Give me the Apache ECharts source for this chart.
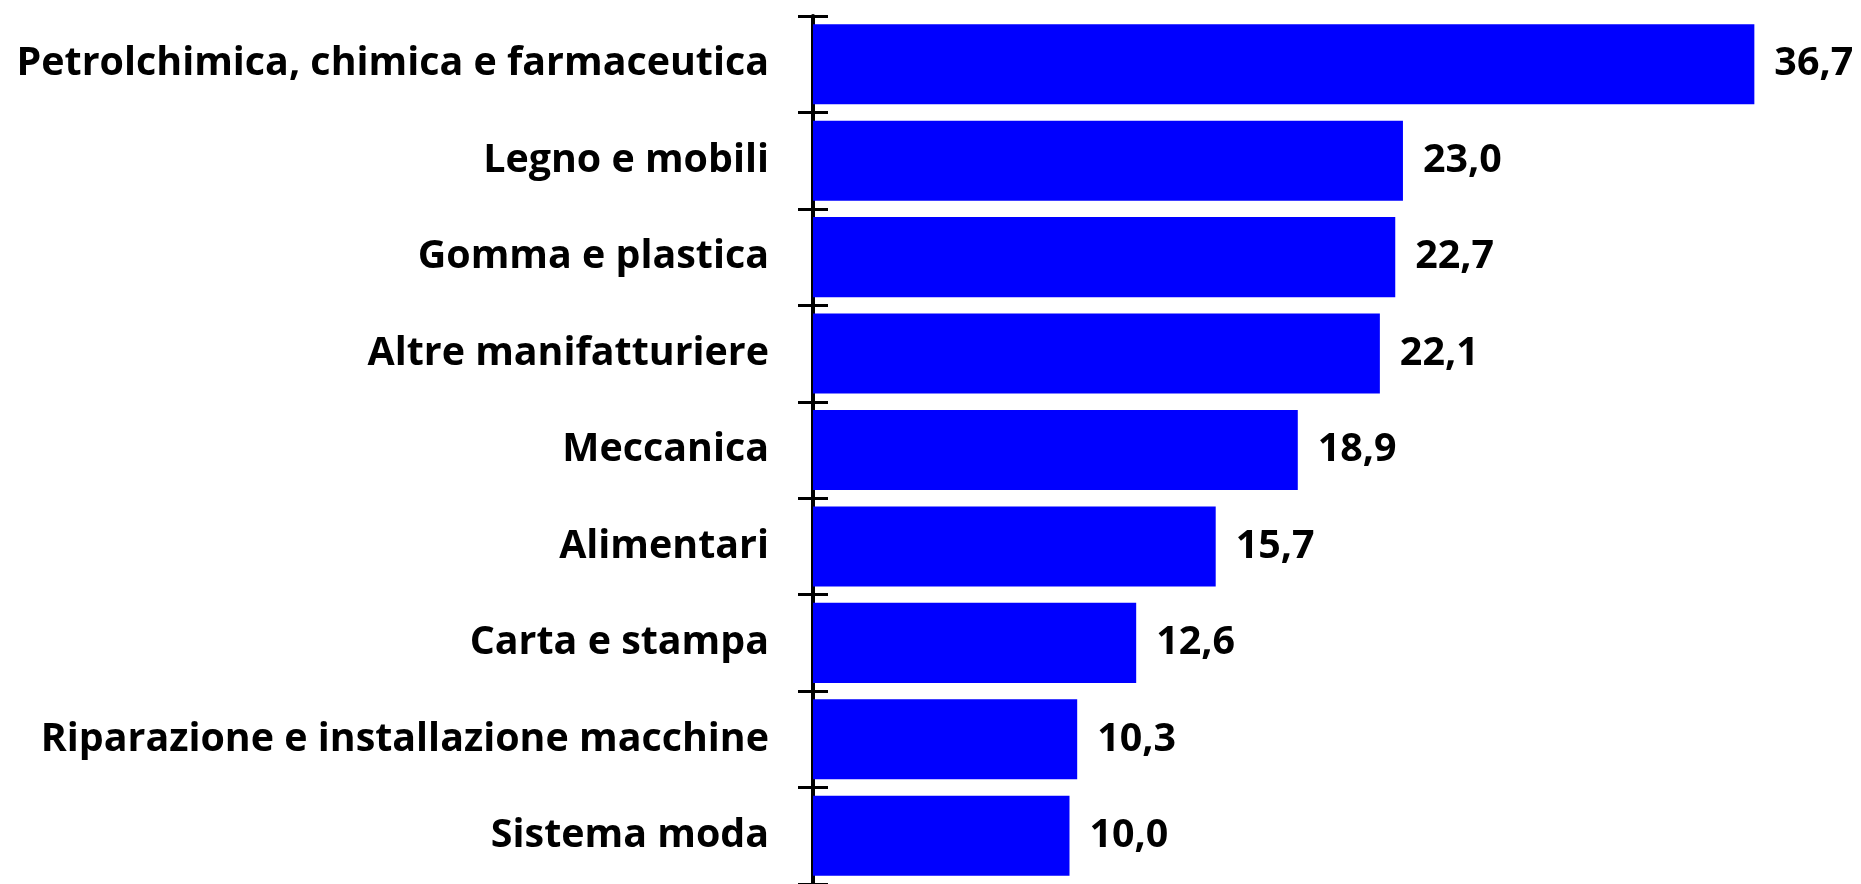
<!DOCTYPE html>
<html>
<head>
<meta charset="utf-8">
<script src="https://cdn.jsdelivr.net/npm/echarts@6/dist/echarts.min.js"></script>
<style>
  html, body { margin: 0; padding: 0; background: #fff; }
  #chartDom { width: 1861px; height: 884px; }
</style>
</head>
<body>
<div id="chartDom"></div>
<script>
// settori (dall'alto verso il basso)
var categories = [
  "Petrolchimica, chimica e farmaceutica",
  "Legno e mobili",
  "Gomma e plastica",
  "Altre manifatturiere",
  "Meccanica",
  "Alimentari",
  "Carta e stampa",
  "Riparazione e installazione macchine",
  "Sistema moda"
];
// valori %
var values = [36.7, 23.0, 22.7, 22.1, 18.9, 15.7, 12.6, 10.3, 10.0];

var myChart = echarts.init(document.getElementById("chartDom"));
var font = "Open Sans";

myChart.setOption({
  animation: false,
  grid: {
    left: 813,
    right: 22,
    top: 16,
    bottom: 0
  },
  xAxis: {
    type: "value",
    min: 0,
    max: 40,
    show: false
  },
  yAxis: [
    {
      type: "category",
      data: categories,
      inverse: true,
      axisLine: { show: true, lineStyle: { color: "#000", width: 4 } },
      axisTick: { show: true, length: 15, lineStyle: { color: "#000", width: 3 } },
      axisLabel: {
        margin: 44,
        color: "#000",
        fontFamily: font,
        fontWeight: "bold",
        fontSize: 39.4
      }
    },
    {
      // ticks anche verso l'interno
      type: "category",
      data: categories,
      inverse: true,
      position: "left",
      axisLine: { show: false },
      axisTick: { show: true, inside: true, length: 15, lineStyle: { color: "#000", width: 3 } },
      axisLabel: { show: false }
    }
  ],
  series: [
    {
      type: "bar",
      data: values,
      yAxisIndex: 0,
      barCategoryGap: "17%",
      itemStyle: { color: "#0000FF" },
      label: {
        show: true,
        position: "right",
        distance: 20,
        color: "#000",
        fontFamily: font,
        fontWeight: "bold",
        fontSize: 39.4,
        formatter: function (p) {
          return p.value.toFixed(1).replace(".", ",");
        }
      }
    }
  ]
});
</script>
</body>
</html>
